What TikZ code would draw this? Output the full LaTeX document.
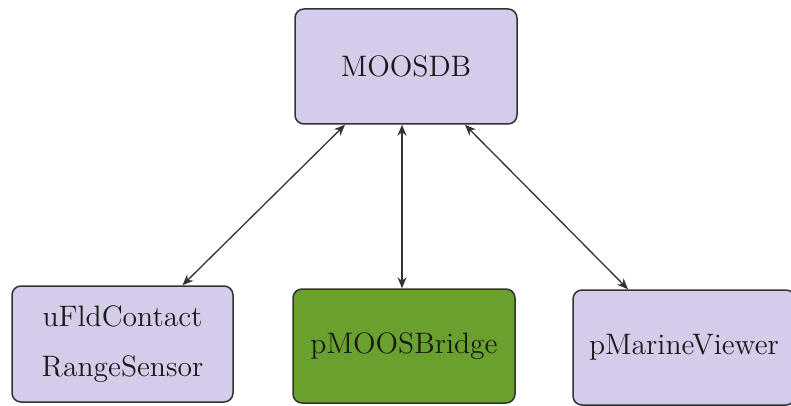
\documentclass[tikz,border=0pt]{standalone}
\usetikzlibrary{arrows.meta}
\definecolor{boxlav}{RGB}{213,204,234}
\definecolor{boxgreen}{RGB}{106,160,46}
\definecolor{edgegray}{RGB}{50,50,55}
\tikzset{
  proc/.style={draw=edgegray, line width=0.75pt, rounded corners=4.5pt,
    fill=boxlav, minimum width=111pt, minimum height=57.5pt,
    align=center, font=\fontsize{14.8}{25}\selectfont, text=black!90},
  link/.style={draw=edgegray, line width=0.65pt,
    {Stealth[length=5.5pt,width=4.5pt]}-{Stealth[length=5.5pt,width=4.5pt]}}
}
\begin{document}
\begin{tikzpicture}[x=0.5pt, y=-0.5pt]
\clip (0,0) rectangle (791,406);
\fill[white] (0,0) rectangle (791,406);

\node[proc] (db) at (406,66.5) {MOOSDB};
\node[proc, minimum width=110.5pt, minimum height=58pt] (sensor) at (122.5,344) {uFldContact\\RangeSensor};
\node[proc, fill=boxgreen, minimum height=57pt] (bridge) at (404,346) {pMOOSBridge};
\node[proc] (viewer) at (684,347.5) {pMarineViewer};

\draw[link] ([xshift=-30.5pt]db.south) -- ([xshift=30pt]sensor.north);
\draw[link] ([xshift=-2pt]db.south) -- ([xshift=-1pt]bridge.north);
\draw[link] ([xshift=29.5pt]db.south) -- ([xshift=-28pt]viewer.north);
\end{tikzpicture}
\end{document}
